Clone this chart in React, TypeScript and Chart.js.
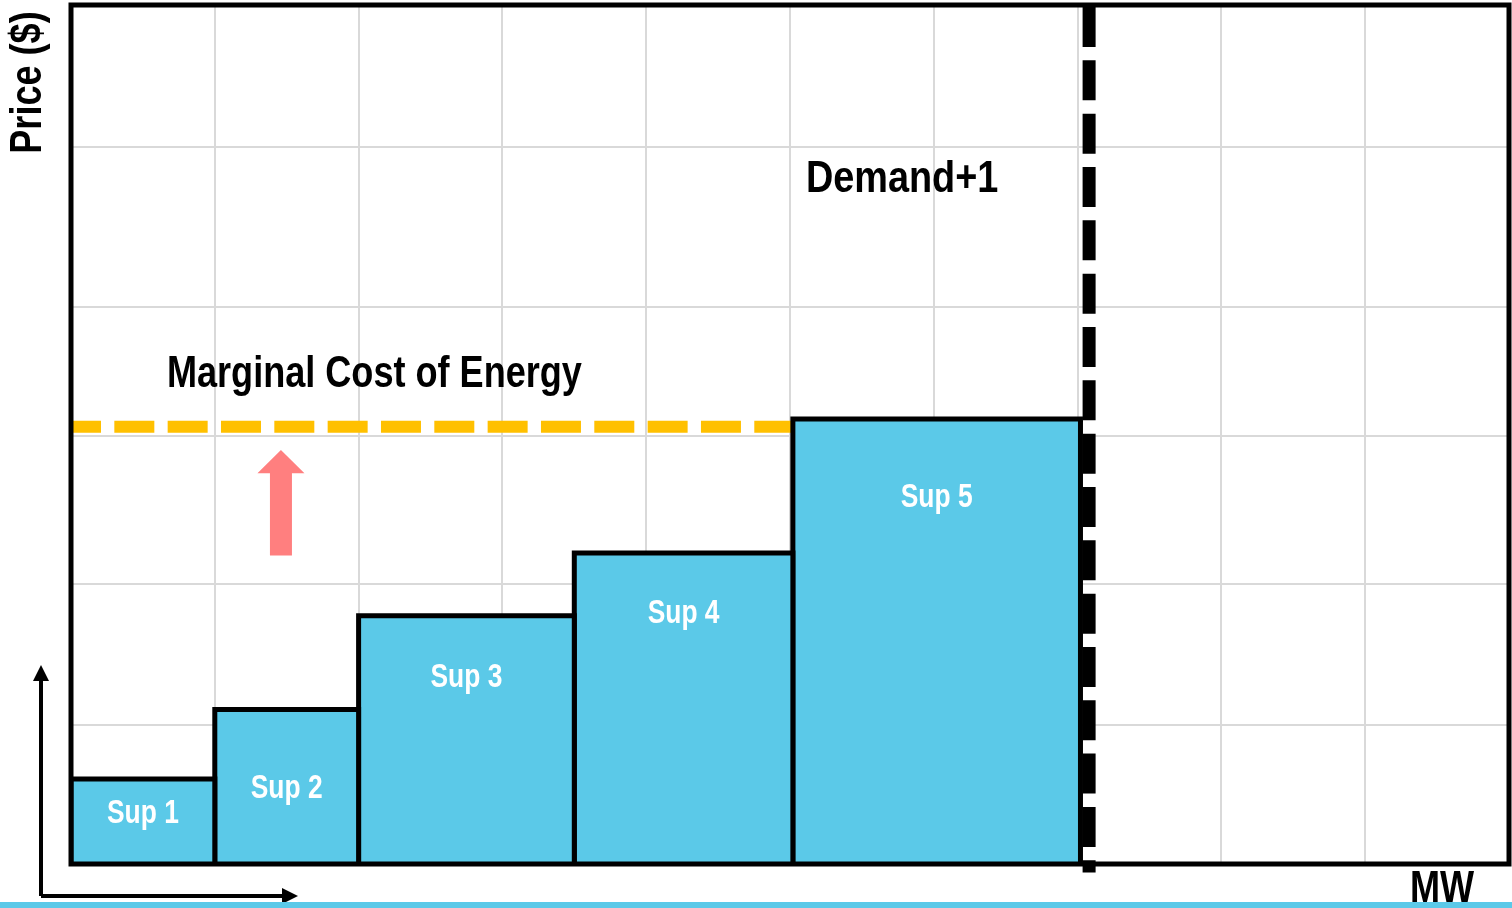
import React, { useEffect, useRef } from "react";
import { Chart, registerables } from "chart.js";

Chart.register(...registerables);

// ---- data ----
const suppliers = ["Sup 1", "Sup 2", "Sup 3", "Sup 4", "Sup 5"];
const supplyStartMW = [0, 1, 2, 3.5, 5.02];
const supplyEndMW = [1, 2, 3.5, 5.02, 7.02];
const supplyPrice = [9.9, 18.0, 28.9, 36.2, 51.8];
const marginalCostPrice = 50.9;
const demandMW = 7.08;
const xGridMW = [0, 1, 2, 3, 4, 5, 6, 7, 8, 9, 10];
const yGridPrice = [16.2, 32.6, 49.8, 64.8, 83.5];
const xMax = 10;
const yMax = 100;

// ---- label placement (price units for text baselines) ----
const supLabelBaseline = [4.77, 7.7, 20.6, 28.1, 41.6];

const FONT = '"Liberation Sans", Arial, sans-serif';
const NARROW = 0.82;
const CYAN = "#5BC9E8";
const ORANGE = "#FFC000";
const SALMON = "#FF7F7F";

function narrowText(ctx: CanvasRenderingContext2D, text: string, x: number, y: number, font: string, sx = NARROW) {
  ctx.save();
  ctx.font = font;
  ctx.translate(x, y);
  ctx.scale(sx, 1);
  ctx.textAlign = "center";
  ctx.textBaseline = "alphabetic";
  ctx.fillText(text, 0, 0);
  ctx.restore();
}

const decorPlugin = {
  id: "decor",
  afterDatasetsDraw(chart: any) {
    const { ctx, chartArea } = chart;
    const xs = chart.scales.x;
    const ys = chart.scales.y;
    ctx.save();

    // frame
    ctx.strokeStyle = "#000";
    ctx.lineWidth = 5;
    ctx.lineJoin = "miter";
    ctx.strokeRect(chartArea.left, chartArea.top, chartArea.right - chartArea.left, chartArea.bottom - chartArea.top);

    // supplier labels
    ctx.fillStyle = "#fff";
    suppliers.forEach((s, i) => {
      const cx = xs.getPixelForValue((supplyStartMW[i] + supplyEndMW[i]) / 2);
      narrowText(ctx, s, cx, ys.getPixelForValue(supLabelBaseline[i]), `bold 33px ${FONT}`, 0.8);
    });

    // annotations
    ctx.fillStyle = "#000";
    narrowText(ctx, "Marginal Cost of Energy", xs.getPixelForValue(2.11), ys.getPixelForValue(55.5), `bold 44px ${FONT}`, 0.82);
    narrowText(ctx, "Demand+1", xs.getPixelForValue(5.78), ys.getPixelForValue(78.2), `bold 44px ${FONT}`, 0.86);

    // red arrow (price rising)
    const ax = xs.getPixelForValue(1.46);
    const tip = ys.getPixelForValue(48.2);
    const base = ys.getPixelForValue(45.5);
    const tail = ys.getPixelForValue(35.9);
    ctx.fillStyle = SALMON;
    ctx.beginPath();
    ctx.moveTo(ax, tip);
    ctx.lineTo(ax + 23.5, base);
    ctx.lineTo(ax + 11, base);
    ctx.lineTo(ax + 11, tail);
    ctx.lineTo(ax - 11, tail);
    ctx.lineTo(ax - 11, base);
    ctx.lineTo(ax - 23.5, base);
    ctx.closePath();
    ctx.fill();

    // axis titles
    ctx.fillStyle = "#000";
    ctx.save();
    ctx.translate(chartArea.left - 30, chartArea.top + 77.5);
    ctx.rotate(-Math.PI / 2);
    narrowText(ctx, "Price ($)", 0, 0, `bold 44px ${FONT}`);
    ctx.restore();
    narrowText(ctx, "MW", chartArea.right - 67, chartArea.bottom + 38, `bold 44px ${FONT}`);

    // small axis arrows at lower-left
    const ox = chartArea.left - 30;
    const oy = chartArea.bottom + 32;
    ctx.strokeStyle = "#000";
    ctx.fillStyle = "#000";
    ctx.lineWidth = 4;
    ctx.beginPath();
    ctx.moveTo(ox, oy);
    ctx.lineTo(ox, chartArea.bottom - 183);
    ctx.moveTo(ox, oy);
    ctx.lineTo(chartArea.left + 212, oy);
    ctx.stroke();
    ctx.beginPath();
    ctx.moveTo(ox, chartArea.bottom - 199);
    ctx.lineTo(ox + 8, chartArea.bottom - 183);
    ctx.lineTo(ox - 8, chartArea.bottom - 183);
    ctx.closePath();
    ctx.fill();
    ctx.beginPath();
    ctx.moveTo(chartArea.left + 227, oy);
    ctx.lineTo(chartArea.left + 211, oy - 8);
    ctx.lineTo(chartArea.left + 211, oy + 8);
    ctx.closePath();
    ctx.fill();

    // cyan strip at the bottom
    ctx.fillStyle = CYAN;
    ctx.fillRect(0, chart.height - 6, chart.width, 6);

    ctx.restore();
  },
};

export default function App() {
  const ref = useRef<HTMLCanvasElement | null>(null);

  useEffect(() => {
    if (!ref.current) return;
    const barSets = suppliers.map((s, i) => ({
      type: "line" as const,
      label: s,
      data: [
        { x: supplyStartMW[i], y: 0 },
        { x: supplyStartMW[i], y: supplyPrice[i] },
        { x: supplyEndMW[i], y: supplyPrice[i] },
        { x: supplyEndMW[i], y: 0 },
      ],
      borderColor: "#000",
      borderWidth: 5,
      borderJoinStyle: "miter" as const,
      backgroundColor: CYAN,
      fill: "origin" as const,
      pointRadius: 0,
      tension: 0,
      order: 2,
    }));

    const chart = new Chart(ref.current, {
      type: "line",
      data: {
        datasets: [
          {
            label: "Marginal Cost of Energy",
            data: [
              { x: 0, y: marginalCostPrice },
              { x: supplyStartMW[4], y: marginalCostPrice },
            ],
            borderColor: ORANGE,
            borderWidth: 12,
            borderDash: [40, 13.33],
            borderDashOffset: 10,
            borderCapStyle: "butt",
            pointRadius: 0,
            fill: false,
            order: 3,
          },
          ...barSets,
          {
            label: "Demand+1",
            data: [
              { x: demandMW, y: yMax },
              { x: demandMW, y: -1 },
            ],
            borderColor: "#000",
            borderWidth: 13,
            borderDash: [40, 13.33],
            borderDashOffset: 51.33,
            borderCapStyle: "butt",
            pointRadius: 0,
            fill: false,
            clip: false,
            order: 1,
          },
        ] as any,
      },
      options: {
        animation: false,
        responsive: false,
        devicePixelRatio: 1,
        parsing: false,
        layout: { padding: { left: 71, top: 5, right: 3, bottom: 44 } },
        plugins: { legend: { display: false }, tooltip: { enabled: false } },
        scales: {
          x: {
            type: "linear",
            min: 0,
            max: xMax,
            afterBuildTicks: (scale: any) => {
              scale.ticks = xGridMW.map((v) => ({ value: v }));
            },
            ticks: { display: false },
            grid: { color: "#D9D9D9", lineWidth: 2, drawTicks: false },
            border: { display: false },
          },
          y: {
            type: "linear",
            min: 0,
            max: yMax,
            afterBuildTicks: (scale: any) => {
              scale.ticks = yGridPrice.map((v) => ({ value: v }));
            },
            ticks: { display: false },
            grid: { color: "#D9D9D9", lineWidth: 2, drawTicks: false },
            border: { display: false },
          },
        },
      } as any,
      plugins: [decorPlugin],
    });
    return () => chart.destroy();
  }, []);

  return (
    <div style={{ position: "fixed", left: 0, top: 0, width: 1512, height: 908, background: "#fff" }}>
      <canvas ref={ref} width={1512} height={908} style={{ display: "block" }} />
    </div>
  );
}
